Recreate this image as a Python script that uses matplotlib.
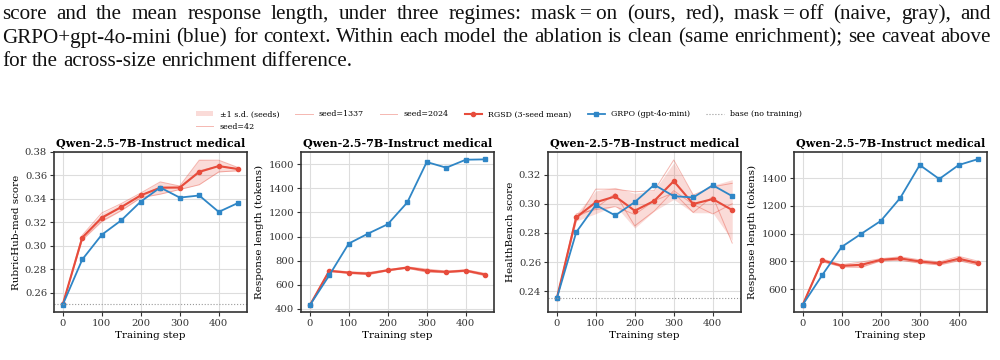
import numpy as np
import matplotlib.pyplot as plt

steps = [0, 50, 100, 150, 200, 250, 300, 350, 400, 450]

# panel 1: RubricHub-med score
rub_s42 = [0.250, 0.305, 0.321, 0.330, 0.341, 0.344, 0.348, 0.352, 0.363, 0.364]
rub_s1337 = [0.250, 0.307, 0.323, 0.333, 0.343, 0.350, 0.350, 0.364, 0.368, 0.3655]
rub_s2024 = [0.250, 0.309, 0.328, 0.336, 0.345, 0.3545, 0.351, 0.373, 0.373, 0.3667]
rub_grpo = [0.2497, 0.2883, 0.3094, 0.3217, 0.3377, 0.3497, 0.3411, 0.3429, 0.3289, 0.3366]
rub_base = 0.250

# panel 2: response length on RubricHub-med
len1_s42 = [430, 710, 694, 684, 716, 737, 705, 700, 711, 675]
len1_s1337 = [430, 716, 701, 693, 721, 743, 718, 707, 718, 685]
len1_s2024 = [430, 722, 708, 702, 726, 749, 731, 714, 725, 695]
len1_grpo = [430, 679, 942, 1025, 1102, 1282, 1617, 1570, 1636, 1639]

# panel 3: HealthBench score
hb_s42 = [0.235, 0.288, 0.310, 0.310, 0.3082, 0.309, 0.330, 0.306, 0.3116, 0.314]
hb_s1337 = [0.235, 0.291, 0.297, 0.307, 0.2848, 0.295, 0.309, 0.2995, 0.293, 0.300]
hb_s2024 = [0.235, 0.293, 0.296, 0.298, 0.2926, 0.302, 0.3075, 0.294, 0.305, 0.273]
hb_grpo = [0.235, 0.2805, 0.2991, 0.2920, 0.3011, 0.3130, 0.3052, 0.3043, 0.3127, 0.3052]
hb_base = 0.235

# panel 4: response length on HealthBench
len2_s42 = [487, 797, 760, 758, 803, 808, 787, 774, 805, 774]
len2_s1337 = [487, 807, 768, 772, 811, 822, 800, 785, 816, 786]
len2_s2024 = [487, 817, 776, 795, 819, 833, 811, 796, 836, 801]
len2_grpo = [487, 701, 905, 999, 1092, 1258, 1496, 1395, 1496, 1539]

titles = ["Qwen-2.5-7B-Instruct medical"] * 4
ylabels = ["RubricHub-med score", "Response length (tokens)",
           "HealthBench score", "Response length (tokens)"]

caption = [
    "score and the mean response length, under three regimes: mask\u2009=\u2009on (ours, red), "
    "mask\u2009=\u2009off (naive, gray), and",
    "GRPO+gpt-4o-mini (blue) for context. Within each model the ablation is clean "
    "(same enrichment); see caveat above",
    "for the across-size enrichment difference.",
]

RED = "#e74c3c"
BLUE = "#2f86c6"
DARK = "#333333"

plt.rcParams["font.family"] = ["DejaVu Serif"]
plt.rcParams["axes.edgecolor"] = DARK
plt.rcParams["axes.linewidth"] = 1.2
plt.rcParams["xtick.color"] = DARK
plt.rcParams["ytick.color"] = DARK
plt.rcParams["xtick.labelsize"] = 7.2
plt.rcParams["ytick.labelsize"] = 7.2
plt.rcParams["xtick.major.size"] = 3
plt.rcParams["ytick.major.size"] = 3
plt.rcParams["xtick.major.pad"] = 2
plt.rcParams["ytick.major.pad"] = 2

fig = plt.figure(figsize=(10, 3.6), dpi=100)

panels = [
    ([rub_s42, rub_s1337, rub_s2024], rub_grpo, rub_base, [0.26, 0.28, 0.30, 0.32, 0.34, 0.36, 0.38], (0.2435, 0.380)),
    ([len1_s42, len1_s1337, len1_s2024], len1_grpo, None, [400, 600, 800, 1000, 1200, 1400, 1600], (375, 1700)),
    ([hb_s42, hb_s1337, hb_s2024], hb_grpo, hb_base, [0.24, 0.26, 0.28, 0.30, 0.32], (0.2257, 0.3355)),
    ([len2_s42, len2_s1337, len2_s2024], len2_grpo, None, [600, 800, 1000, 1200, 1400], (434, 1590)),
]
lefts = [0.054, 0.301, 0.548, 0.794]
seed_names = ["seed=42", "seed=1337", "seed=2024"]

handles = []
for i, (seeds, grpo, base, yt, ylim) in enumerate(panels):
    ax = fig.add_axes([lefts[i], 0.1333, 0.193, 0.4445])
    arr = np.array(seeds, dtype=float)
    mean = arr.mean(axis=0)
    sd = arr.std(axis=0, ddof=1)
    band = ax.fill_between(steps, mean - sd, mean + sd, color=RED, alpha=0.2, lw=0,
                           label="\u00b11 s.d. (seeds)")
    seed_lines = []
    for s, name in zip(seeds, seed_names):
        l, = ax.plot(steps, s, color=RED, alpha=0.4, lw=0.7, label=name)
        seed_lines.append(l)
    m, = ax.plot(steps, mean, color=RED, marker="o", ms=3, lw=1.5, label="RGSD (3-seed mean)")
    g, = ax.plot(steps, grpo, color=BLUE, marker="s", ms=3.5, lw=1.3, label="GRPO (gpt-4o-mini)")
    if base is not None:
        b = ax.axhline(base, color="#999999", ls=":", lw=0.8, label="base (no training)")
    if i == 0:
        handles = [band] + seed_lines + [m, g, b]
    ax.set_xlim(-22.5, 472.5)
    ax.set_ylim(*ylim)
    ax.set_xticks([0, 100, 200, 300, 400])
    ax.set_yticks(yt)
    ax.grid(True, color="#dddddd", lw=0.8)
    ax.set_axisbelow(True)
    ax.set_title(titles[i], fontsize=8, fontweight="bold", pad=4)
    ax.set_xlabel("Training step", fontsize=7.5, labelpad=2)
    ax.set_ylabel(ylabels[i], fontsize=7.5, labelpad=3)

fig.legend(handles=handles, loc="center", bbox_to_anchor=(0.499, 0.665), ncol=6,
           frameon=False, fontsize=5.7, handlelength=2.2, handletextpad=0.8,
           columnspacing=2.0, labelspacing=0.55)

# caption lines above the figure, justified like the page text
renderer = fig.canvas.get_renderer()
W, H = fig.bbox.width, fig.bbox.height
cap_size = 15.2
baselines = [19, 42.5, 66]
for k, line in enumerate(caption):
    words = line.split(" ")
    objs = [fig.text(0, 1 - baselines[k] / H, w, fontsize=cap_size, va="baseline",
                     family=["Liberation Serif", "DejaVu Serif"], color="#111111") for w in words]
    widths = [o.get_window_extent(renderer).width for o in objs]
    if k < 2:
        gap = (991 - 2 - sum(widths)) / (len(words) - 1)
    else:
        gap = 0.25 * cap_size * 100 / 72
    x = 2
    for o, w in zip(objs, widths):
        o.set_x(x / W)
        x += w + gap

fig.savefig("out.png", dpi=100)
